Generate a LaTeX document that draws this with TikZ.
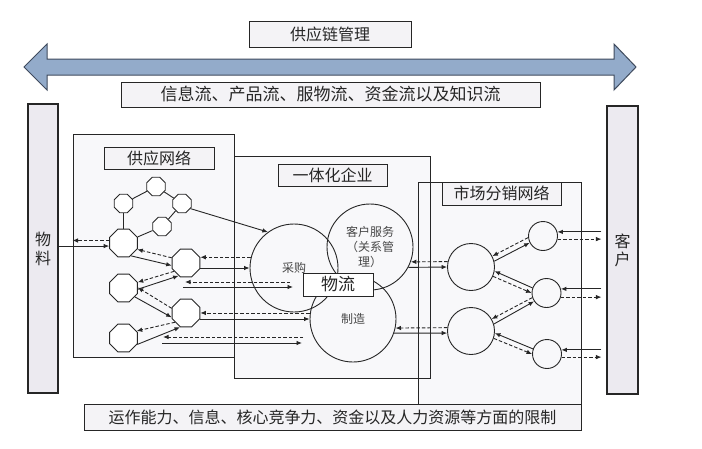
\documentclass[tikz,border=0pt]{standalone}
\usepackage{fontspec}
\newfontfamily\cjk{Noto Sans CJK SC}
\usetikzlibrary{shapes.geometric,arrows.meta,calc,backgrounds}
\definecolor{barfill}{HTML}{ECEAF0}
\definecolor{boxfill}{HTML}{F8F8FA}
\definecolor{lblfill}{HTML}{F4F3F6}
\definecolor{arrfill}{HTML}{93ABCA}
\definecolor{arrline}{HTML}{3F4B5E}
\definecolor{ink}{HTML}{262626}
\begin{document}
\begin{tikzpicture}[x=1pt,y=-1pt,
 txt/.style={font=\cjk\fontsize{16}{19}\selectfont, text=ink},
 lbl/.style={txt, draw=ink, fill=lblfill, line width=1pt, inner sep=0pt},
 cont/.style={draw=ink, line width=1pt, inner sep=0pt},
 bar/.style={txt, draw=ink, fill=barfill, line width=1.1pt, inner sep=0pt, align=center},
 oct/.style={regular polygon, regular polygon sides=8, draw=ink, fill=white, line width=0.9pt, inner sep=0pt},
 bigoct/.style={oct, minimum size=30pt},
 smoct/.style={oct, minimum size=20pt},
 circ/.style={circle, draw=ink, line width=0.9pt, inner sep=0pt, text=ink!85, font=\cjk\fontsize{12}{15}\selectfont, align=center},
 sol/.style={draw=ink, line width=0.9pt, -{Latex[length=5.5pt,width=4.5pt]}},
 dsh/.style={sol, dash pattern=on 3.5pt off 2pt},
 lnk/.style={draw=ink, line width=0.9pt}]
\useasboundingbox (0,0) rectangle (702,448);

% containers
\node[cont, minimum width=161pt, minimum height=223pt] (sup) at (153.5,245.5) {};
\node[cont, minimum width=196pt, minimum height=222pt] (ent) at (332,267) {};
\node[cont, minimum width=163pt, minimum height=248pt] (mkt) at (499.5,306) {};
\begin{scope}[on background layer]
 \fill[white] (0,0) rectangle (702,448);
 \foreach \b in {sup,ent,mkt} \fill[boxfill] (\b.north west) rectangle (\b.south east);
\end{scope}

% big double arrow
\draw[fill=arrfill, draw=arrline, line width=1pt, line join=miter]
 (24,67) -- (47,44) -- (47,59) -- (614,59) -- (614,44) -- (636,67)
 -- (614,90) -- (614,75) -- (47,75) -- (47,90) -- cycle;

% labels
\node[lbl, minimum width=162pt, minimum height=26pt] (scm) at (330,34) {供应链管理};
\node[lbl, minimum width=419pt, minimum height=25pt, font=\cjk\fontsize{17}{19}\selectfont] (flow) at (330.5,94.5) {信息流、产品流、服物流、资金流以及知识流};
\node[lbl, minimum width=110pt, minimum height=22pt] (supl) at (159,158) {供应网络};
\node[lbl, minimum width=109pt, minimum height=22pt] (entl) at (332.5,175) {一体化企业};
\node[lbl, minimum width=119pt, minimum height=23pt] (mktl) at (501.5,193.5) {市场分销网络};

% bars
\node[bar, minimum width=30pt, minimum height=289pt] (mat) at (43,248.5) {物\\料};
\node[bar, minimum width=31pt, minimum height=288pt, font=\cjk\fontsize{16}{18}\selectfont] (cust) at (622.5,250) {客\\户};

% supply network octagons
\node[smoct] (oTop) at (156,186.5) {};
\node[smoct] (oL) at (123.5,203.5) {};
\node[smoct] (oR) at (182,203.5) {};
\node[smoct] (oS) at (162,226.5) {};
\node[bigoct] (oA) at (123.5,243) {};
\node[bigoct] (oB) at (186,263) {};
\node[bigoct] (oC) at (123.5,288) {};
\node[bigoct] (oD) at (186,313) {};
\node[bigoct] (oE) at (123.5,338) {};

\draw[lnk] (oL) -- (oTop);
\draw[lnk] (oTop) -- (oR);
\draw[lnk] (oR) -- (oS);
\draw[lnk] (oS) -- (oA);
\draw[lnk] (oL) -- (oA);

% enterprise circles
\node[circ, minimum size=88pt] (cp) at (294,268) {采购};
\node[circ, minimum size=86pt] (cs) at (370,247) {客户服务\\（关系管\\理）};
\node[circ, minimum size=86pt] (mf) at (353,319) {制造};
\node[lbl, fill=white, minimum width=70pt, minimum height=23pt, font=\cjk\fontsize{17}{19}\selectfont] (wl) at (338,284.5) {物流};

% market circles
\node[circ, minimum size=47pt] (M1) at (471,267) {};
\node[circ, minimum size=47pt] (M2) at (471,331) {};
\node[circ, minimum size=29pt] (S1) at (543,236) {};
\node[circ, minimum size=29pt] (S2) at (546.5,293) {};
\node[circ, minimum size=29pt] (S3) at (547,354) {};

% material in
\draw[sol] (mat.east |- oA.-168) -- (oA.-168);
\draw[dsh] (oA.170) -- (sup.west |- oA.170);

% inside supply network
\draw[sol] (oA.-60) -- (oB.190);
\draw[dsh] (oB.160) -- (oA.-25);
\draw[dsh] (oB.-145) -- (oC.22);
\draw[sol] (oC.-5) -- (oB.-120);
\draw[dsh] (oD.162) -- (oC.2);
\draw[sol] (oC.-38) -- (oD.197);
\draw[sol] (oE.-25) -- (oD.-113);
\draw[dsh] (oD.-140) -- (oE.28);
\draw[sol] (oR.-31) -- (cp.126);

% supply -> enterprise rows
\draw[dsh] (cp.166) -- (oB.east |- cp.166);
\draw[sol] (oB.east |- cp.180) -- (cp.180);
\coordinate (r2a) at (290,282);
\coordinate (r2b) at (185,282);
\coordinate (r2c) at (183,287);
\coordinate (r2d) at (293,287);
\draw[dsh] (r2a) -- (r2b);
\draw[sol] (r2c) -- (r2d);
\draw[dsh] (mf.172) -- (oD.east |- mf.172);
\draw[sol] (oD.east |- mf.180) -- (mf.180);
\coordinate (r4a) at (303,337);
\coordinate (r4b) at (163,337);
\coordinate (r4c) at (162,343);
\coordinate (r4d) at (302,343);
\draw[dsh] (r4a) -- (r4b);
\draw[sol] (r4c) -- (r4d);

% enterprise -> market
\draw[dsh] (M1.167) -- (cs.-20);
\draw[sol] (cs.-28) -- (M1.180);
\draw[dsh] (M2.172) -- (mf.-12);
\draw[sol] (mf.-19) -- (M2.185);

% market network
\draw[dsh] (S1.186) -- (M1.27);
\draw[sol] (M1.14) -- (S1.207);
\draw[sol] (S2.160) -- (M1.-10);
\draw[dsh] (M1.-23) -- (S2.180);
\draw[dsh] (S2.198) -- (M2.30);
\draw[sol] (M2.17) -- (S2.214);
\draw[sol] (S3.160) -- (M2.-5);
\draw[dsh] (M2.-18) -- (S3.180);

% customers
\draw[sol] ($(cust.west |- S1.16)+(-5,0)$) -- (S1.16);
\draw[dsh] (S1.-12) -- ($(cust.west |- S1.-12)+(-5,0)$);
\draw[sol] ($(cust.west |- S2.16)+(-5,0)$) -- (S2.16);
\draw[dsh] (S2.-16) -- ($(cust.west |- S2.-16)+(-5,0)$);
\draw[sol] ($(cust.west |- S3.16)+(-5,0)$) -- (S3.16);
\draw[dsh] (S3.-12) -- ($(cust.west |- S3.-12)+(-5,0)$);

% bottom constraint label
\node[lbl, minimum width=497pt, minimum height=26pt] (lim) at (332.5,417) {运作能力、信息、核心竞争力、资金以及人力资源等方面的限制};
\end{tikzpicture}
\end{document}
